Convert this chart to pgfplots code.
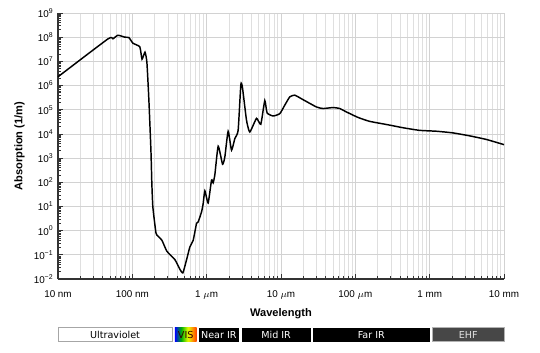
\documentclass[border=0pt]{standalone}
\usepackage{fontspec}
\setmainfont{Liberation Sans}
\newfontfamily\dejavu{DejaVu Sans}
\usepackage{pgfplots}
\pgfplotsset{compat=1.18}
\pgfdeclarehorizontalshading{rainbow}{100bp}{color(0bp)=(violet!80!black); color(12bp)=(violet); color(25bp)=(blue); color(40bp)=(green!70!black); color(55bp)=(yellow!90!green); color(68bp)=(orange); color(82bp)=(red); color(100bp)=(red!60!black)}
\begin{document}
\begin{tikzpicture}
\begin{axis}[
  scale only axis, width=334.5pt, height=199.5pt,
  xmode=log, ymode=log,
  xmin=10, xmax=1e7, ymin=1e-2, ymax=1e9,
  axis lines=left,
  axis line style={-, line width=1pt, black!80},
  clip=false,
  xtick={10,100,1000,1e4,1e5,1e6,1e7},
  xticklabels={10 nm,100 nm,1 $\mu$m,10 $\mu$m,100 $\mu$m,1 mm,10 mm},
  xticklabel style={yshift=-5.5pt},
  minor xtick={20,30,40,50,60,70,80,90,200,300,400,500,600,700,800,900,2e3,3e3,4e3,5e3,6e3,7e3,8e3,9e3,2e4,3e4,4e4,5e4,6e4,7e4,8e4,9e4,2e5,3e5,4e5,5e5,6e5,7e5,8e5,9e5,2e6,3e6,4e6,5e6,6e6,7e6,8e6,9e6},
  ytick={1e-2,1e-1,1,10,100,1e3,1e4,1e5,1e6,1e7,1e8,1e9},
  yticklabels={10\textsuperscript{−2},10\textsuperscript{−1},10\textsuperscript{0},10\textsuperscript{1},10\textsuperscript{2},10\textsuperscript{3},10\textsuperscript{4},10\textsuperscript{5},10\textsuperscript{6},10\textsuperscript{7},10\textsuperscript{8},10\textsuperscript{9}},
  minor ytick={2e-2,3e-2,4e-2,5e-2,6e-2,7e-2,8e-2,9e-2,0.2,0.3,0.4,0.5,0.6,0.7,0.8,0.9,2,3,4,5,6,7,8,9,20,30,40,50,60,70,80,90,200,300,400,500,600,700,800,900,2e3,3e3,4e3,5e3,6e3,7e3,8e3,9e3,2e4,3e4,4e4,5e4,6e4,7e4,8e4,9e4,2e5,3e5,4e5,5e5,6e5,7e5,8e5,9e5,2e6,3e6,4e6,5e6,6e6,7e6,8e6,9e6,2e7,3e7,4e7,5e7,6e7,7e7,8e7,9e7,2e8,3e8,4e8,5e8,6e8,7e8,8e8,9e8},
  xmajorgrids=true, xminorgrids=true, ymajorgrids=true, yminorgrids=false,
  major grid style={gray!35, line width=0.5pt},
  minor grid style={gray!25, line width=0.4pt},
  tick align=inside,
  major tick length=3.5pt, minor tick length=2pt,
  tick style={black!80, line width=0.6pt},
  tick label style={font=\fontsize{7.4}{9}\selectfont},
  label style={font=\fontsize{8.3}{10}\selectfont\bfseries},
  xlabel={Wavelength}, ylabel={Absorption (1/m)},
]
\addplot[black, line width=1.1pt, smooth, tension=0.3] coordinates {
(10,2.3e6) (47,8.5e7) (54.8,8.6e7) (64,1.2e8) (79.4,1.0e8) (90,9.6e7)
(102,5.6e7) (126,4.0e7) (135,1.23e7) (148,2.4e7) (157,9.1e6) (167,2.5e5)
(178,2000) (183,91) (189,9.3) (208,0.8) (221,0.6) (250,0.4) (292,0.14)
(374,0.063) (437,0.025) (479,0.018) (537,0.063) (594,0.21) (659,0.4)
(731,2.0) (769,2.3) (854,6.0) (897,13) (946,44) (1047,14) (1163,123)
(1222,95) (1288,200) (1429,3100) (1636,560) (1757,1120) (1945,1.29e4)
(2161,2140) (2395,6500) (2651,1.4e4) (2884,1.1e6) (3035,8.0e5) (3435,3.7e4)
(3805,1.2e4) (4685,4.4e4) (5349,2.5e4) (6053,2.4e5) (6500,7.4e4) (7830,5.5e4)
(9640,6.9e4) (11250,1.55e5) (13130,3.4e5) (15320,4.0e5) (19820,2.6e5)
(30000,1.3e5) (36800,1.12e5) (50100,1.23e5) (61700,1.12e5) (75900,8.1e4)
(108700,4.8e4) (156000,3.3e4) (262000,2.45e4) (437000,1.8e4) (734000,1.4e4)
(1.23e6,1.29e4) (2.06e6,1.1e4) (3.45e6,8300) (5.78e6,5900) (1e7,3600)
};
% spectral bands
\draw[gray!70, fill=white, line width=0.5pt] ({axis cs:10,1}|-{rel axis cs:0,-0.2357}) rectangle ({axis cs:344,1}|-{rel axis cs:0,-0.183});
\node[font=\dejavu\fontsize{7.2}{8}\selectfont, black] at ({axis cs:58.6,1}|-{rel axis cs:0,-0.2095}) {Ultraviolet};
\shade[shading=rainbow] ({axis cs:374,1}|-{rel axis cs:0,-0.2357}) rectangle ({axis cs:731,1}|-{rel axis cs:0,-0.183});
\node[font=\dejavu\fontsize{7.2}{8}\selectfont, black!80!red] at ({axis cs:523,1}|-{rel axis cs:0,-0.2095}) {VIS};
\fill[black] ({axis cs:785,1}|-{rel axis cs:0,-0.2357}) rectangle ({axis cs:2710,1}|-{rel axis cs:0,-0.183});
\node[font=\dejavu\fontsize{7.2}{8}\selectfont, white] at ({axis cs:1459,1}|-{rel axis cs:0,-0.2095}) {Near IR};
\fill[black] ({axis cs:2944,1}|-{rel axis cs:0,-0.2357}) rectangle ({axis cs:25100,1}|-{rel axis cs:0,-0.183});
\node[font=\dejavu\fontsize{7.2}{8}\selectfont, white] at ({axis cs:8596,1}|-{rel axis cs:0,-0.2095}) {Mid IR};
\fill[black] ({axis cs:27000,1}|-{rel axis cs:0,-0.2357}) rectangle ({axis cs:1e6,1}|-{rel axis cs:0,-0.183});
\node[font=\dejavu\fontsize{7.2}{8}\selectfont, white] at ({axis cs:164300,1}|-{rel axis cs:0,-0.2095}) {Far IR};
\draw[gray!60, fill=black!72, line width=0.5pt] ({axis cs:1.09e6,1}|-{rel axis cs:0,-0.2357}) rectangle ({axis cs:1e7,1}|-{rel axis cs:0,-0.183});
\node[font=\dejavu\fontsize{7.2}{8}\selectfont, black!12] at ({axis cs:3.3e6,1}|-{rel axis cs:0,-0.2095}) {EHF};
\end{axis}
\pgfresetboundingbox
\path[use as bounding box] (-43.5pt,-55.5pt) rectangle (361.5pt,209.25pt);
\end{tikzpicture}
\end{document}
